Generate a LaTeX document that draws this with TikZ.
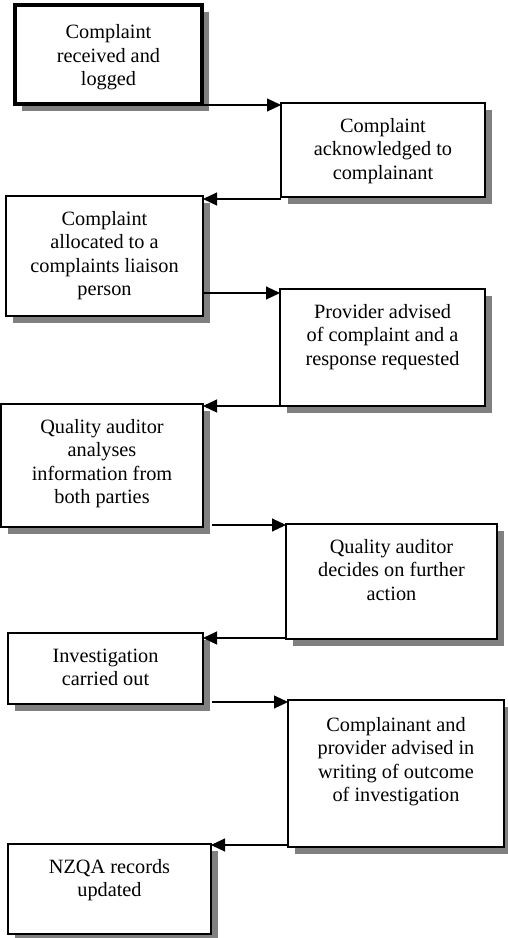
\documentclass[tikz,border=0pt]{standalone}
\usepackage{fontspec}
\setmainfont{Liberation Serif}
\usetikzlibrary{arrows.meta,shadows}
\tikzset{
  box/.style={draw, line width=2pt, fill=white, inner sep=0pt, outer sep=0pt,
    drop shadow={shadow xshift=6.5pt, shadow yshift=-6.5pt, fill=black!50, opacity=1},
    font=\fontsize{20.3}{23.5}\selectfont},
  arr/.style={line width=1.1pt, -{Triangle[length=14pt,width=13pt]}},
}
\newcommand\boxtext[4][12.6pt]{\parbox[c][#3][t]{#2}{\centering\vspace*{#1}\strut #4}}
\begin{document}
\begin{tikzpicture}[x=1pt,y=-1pt]
\useasboundingbox (0,0) rectangle (508,938);
\node[box, line width=4pt] (b1) at (108.5,54.5) {\boxtext[17.5pt]{187pt}{99pt}{Complaint\\received and\\logged}};
\node[box] (b2) at (383,150) {\boxtext{204pt}{94pt}{Complaint\\acknowledged to\\complainant}};
\node[box] (b3) at (104.5,256) {\boxtext{197pt}{120pt}{Complaint\\allocated to a\\complaints liaison\\person}};
\node[box] (b4) at (382.5,347.5) {\boxtext{205pt}{117pt}{Provider advised\\of complaint and a\\response requested}};
\node[box] (b5) at (102,465.5) {\boxtext{202pt}{123pt}{Quality auditor\\analyses\\information from\\both parties}};
\node[box] (b6) at (391.5,581.5) {\boxtext{211pt}{115pt}{Quality auditor\\decides on further\\action}};
\node[box] (b7) at (105.5,668.5) {\boxtext{195pt}{71pt}{Investigation\\carried out}};
\node[box] (b8) at (396,773.5) {\boxtext[15pt]{216pt}{147pt}{Complainant and\\provider advised in\\writing of outcome\\of investigation}};
\node[box] (b9) at (109.5,889) {\boxtext{203pt}{90pt}{NZQA records\\updated}};
\coordinate (s5) at ([xshift=9pt]b5.east);
\coordinate (s7) at ([xshift=9pt]b7.east);
\draw[arr] (b1.east |- 0,105) -- (b2.west |- 0,105);
\draw[arr] (b2.west |- 0,199) -- (b3.east |- 0,199);
\draw[arr] (b3.east |- 0,293) -- (b4.west |- 0,293);
\draw[arr] (b4.west |- 0,406) -- (b5.east |- 0,406);
\draw[arr] (s5 |- 0,525) -- (b6.west |- 0,525);
\draw[arr] (b6.west |- 0,638) -- (b7.east |- 0,638);
\draw[arr] (s7 |- 0,702) -- (b8.west |- 0,702);
\draw[arr] (b8.west |- 0,845) -- (b9.east |- 0,845);
\end{tikzpicture}
\end{document}
